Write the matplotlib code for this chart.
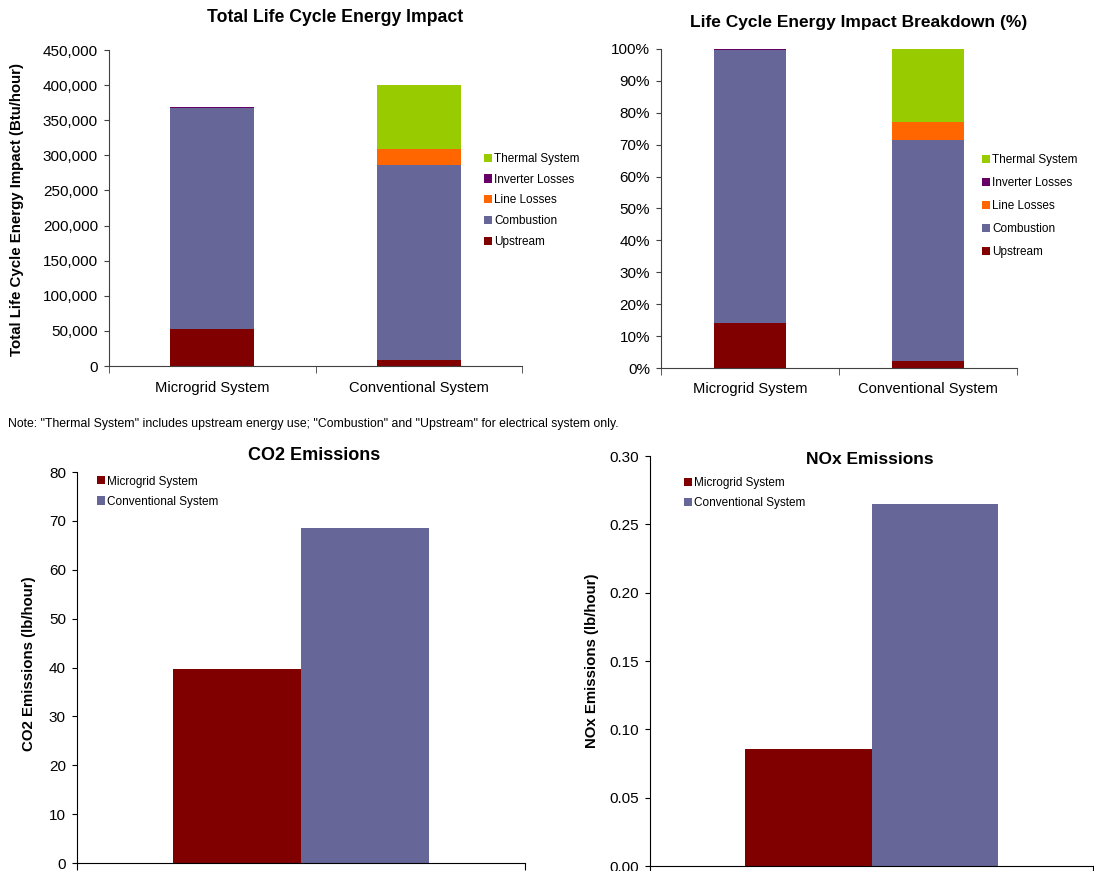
import matplotlib
matplotlib.use("Agg")
import matplotlib.pyplot as plt
from matplotlib.ticker import FuncFormatter, FixedLocator
import numpy as np

plt.rcParams['font.family'] = ['Liberation Sans', 'DejaVu Sans']

# ------- data -------
systems = ['Microgrid System', 'Conventional System']
components = ['Upstream', 'Combustion', 'Line Losses', 'Inverter Losses', 'Thermal System']
comp_colors = ['#800000', '#666699', '#FF6600', '#660066', '#99CC00']

# Btu/hour, one list per component (microgrid, conventional)
upstream = [52500, 9000]
combustion = [314500, 277000]
line_losses = [0, 23000]
inverter_losses = [1200, 0]
thermal_system = [0, 91000]

co2 = [39.7, 68.5]     # lb/hour
nox = [0.0854, 0.2647]  # lb/hour

series_colors = ['#800000', '#666699']

W, H = 1094, 871
fig = plt.figure(figsize=(W / 100, H / 100), dpi=100)


def box(l, t, r, b):
    return [l / W, 1 - b / H, (r - l) / W, (b - t) / H]


def fig_text(x, y, s, **kw):
    fig.text(x / W, 1 - y / H, s, ha='center', va='center', **kw)


def style_axes(ax, spine_col):
    for s in ['top', 'right']:
        ax.spines[s].set_visible(False)
    ax.spines['left'].set_color(spine_col)
    ax.spines['bottom'].set_color(spine_col)
    ax.tick_params(axis='y', direction='out', length=3.5, color=spine_col,
                   labelsize=11, pad=4.5)


def stacked(ax, stacks, fmt, cat_pad):
    x = np.arange(len(systems))
    bottom = np.zeros(len(systems))
    handles = []
    for vals, name, col in zip(stacks, components, comp_colors):
        h = ax.bar(x, vals, 0.405, bottom=bottom, color=col, label=name, linewidth=0)
        bottom += np.array(vals)
        handles.append(h)
    ax.set_xlim(-0.5, 1.5)
    ax.set_xticks(x)
    ax.set_xticklabels(systems, fontsize=10.6)
    ax.tick_params(axis='x', which='major', length=0, pad=cat_pad)
    ax.xaxis.set_minor_locator(FixedLocator([-0.5, 0.5, 1.5]))
    ax.tick_params(axis='x', which='minor', direction='out', length=5, color='#404040')
    ax.yaxis.set_major_formatter(FuncFormatter(fmt))
    style_axes(ax, '#404040')
    return handles


def legend_at(ax, handles, labels, x, y, spacing):
    ax.legend(handles, labels, loc='upper left', bbox_to_anchor=(x / W, 1 - y / H),
              bbox_transform=fig.transFigure, frameon=False, fontsize=8.5,
              handlelength=0.7, handleheight=0.7, handletextpad=0.15,
              labelspacing=spacing, borderpad=0, borderaxespad=0)


stacks = [upstream, combustion, line_losses, inverter_losses, thermal_system]

# ------- total life cycle energy -------
ax1 = fig.add_axes(box(109, 50, 522, 366))
h1 = stacked(ax1, stacks, lambda v, p: f'{v:,.0f}', 11)
ax1.set_ylim(0, 450000)
ax1.set_yticks(np.arange(0, 450001, 50000))
fig_text(335, 17, 'Total Life Cycle Energy Impact', fontsize=12.7, fontweight='bold')
fig_text(17, 210, 'Total Life Cycle Energy Impact (Btu/hour)', fontsize=10.8,
         fontweight='bold', rotation=90)
legend_at(ax1, h1[::-1], components[::-1], 484, 153, 0.74)

# ------- percentage breakdown -------
totals = np.sum(stacks, axis=0)
pct = [list(np.array(s) / totals * 100) for s in stacks]
ax2 = fig.add_axes(box(661, 49, 1017, 368))
h2 = stacked(ax2, pct, lambda v, p: f'{v:.0f}%', 10)
ax2.set_ylim(0, 100)
ax2.set_yticks(np.arange(0, 101, 10))
fig_text(859, 22, 'Life Cycle Energy Impact Breakdown (%)', fontsize=12.5, fontweight='bold')
legend_at(ax2, h2[::-1], components[::-1], 982, 154, 0.93)

fig.text(8 / W, 1 - 424 / H,
         'Note: "Thermal System" includes upstream energy use; "Combustion" and "Upstream" for electrical system only.',
         fontsize=8.8, va='center', ha='left')


# ------- emissions -------
def emissions(ax, vals, ylim, step, fmt, leg_x, leg_y):
    bw = 1 / 3.5
    hs = []
    for i, (v, col, name) in enumerate(zip(vals, series_colors, systems)):
        hs.append(ax.bar((i - 0.5) * bw, v, bw, color=col, label=name, linewidth=0))
    ax.set_xlim(-0.5, 0.5)
    ax.set_xticks([-0.5, 0.5])
    ax.set_xticklabels([])
    ax.tick_params(axis='x', direction='out', length=5, color='black')
    ax.set_ylim(0, ylim)
    ax.set_yticks(np.arange(0, ylim + step / 2, step))
    ax.yaxis.set_major_formatter(FuncFormatter(fmt))
    style_axes(ax, 'black')
    legend_at(ax, hs, systems, leg_x, leg_y, 0.7)


ax3 = fig.add_axes(box(77, 472, 525, 863))
emissions(ax3, co2, 80, 10, lambda v, p: f'{v:.0f}', 97, 475.5)
fig_text(314, 455, 'CO2 Emissions', fontsize=13, fontweight='bold')
fig_text(29, 664, 'CO2 Emissions (lb/hour)', fontsize=10.8, fontweight='bold', rotation=90)

ax4 = fig.add_axes(box(650, 456, 1093, 866))
emissions(ax4, nox, 0.30, 0.05, lambda v, p: f'{v:.2f}', 684, 477)
fig_text(870, 459, 'NOx Emissions', fontsize=12.5, fontweight='bold')
fig_text(592, 661, 'NOx Emissions (lb/hour)', fontsize=10.8, fontweight='bold', rotation=90)

fig.savefig('out.png', dpi=100)
